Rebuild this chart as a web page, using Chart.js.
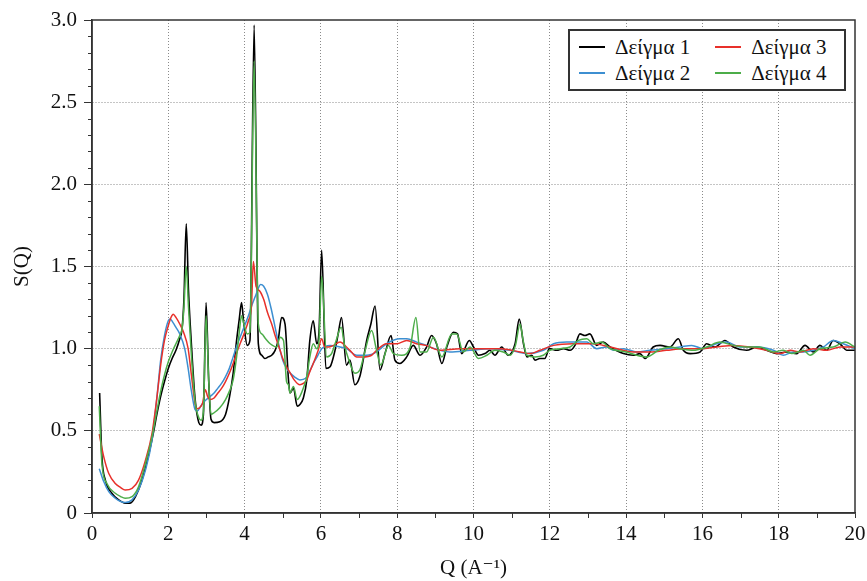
<!DOCTYPE html>
<html>
<head>
<meta charset="utf-8">
<script src="https://cdn.jsdelivr.net/npm/chart.js@4.4.1/dist/chart.umd.min.js"></script>
<style>
  html, body { margin: 0; padding: 0; background: #fff; }
  #wrap { position: relative; width: 867px; height: 581px; }
  #legend {
    position: absolute; display: grid; grid-template-rows: 26px 26px; grid-auto-flow: column;
    column-gap: 25px; padding: 3px 17px 3px 9px; border: 1px solid #333; outline: 0.5px solid #333; background: #fff;
    font-family: "Liberation Serif", "DejaVu Serif", serif; font-size: 21px; color: #111;
  }
  .item { display: flex; align-items: center; white-space: nowrap; }
  .swatch { display: inline-block; width: 26px; height: 2px; margin-right: 10px; }
</style>
</head>
<body>
<div id="wrap">
  <canvas id="c" width="867" height="581"></canvas>
  <div id="legend"></div>
</div>
<script>
// ---- Data ----
const seriesLabels = ['Δείγμα 1', 'Δείγμα 2', 'Δείγμα 3', 'Δείγμα 4'];
const seriesColors = ['#000000', '#3d8fd1', '#e8302a', '#4cad49'];
const xTitle = 'Q (A⁻¹)';
const yTitle = 'S(Q)';
const xTicks = [0, 2, 4, 6, 8, 10, 12, 14, 16, 18, 20];
const yTicks = [0, 0.5, 1.0, 1.5, 2.0, 2.5, 3.0];

const q1 = [0.2,0.26,0.35,0.52,0.7,0.87,1.0,1.14,1.31,1.49,1.62,1.7,1.8,1.9,2.0,2.1,2.2,2.3,2.36,2.41,2.47,2.53,2.6,2.7,2.8,2.86,2.92,2.99,3.06,3.12,3.2,3.35,3.5,3.6,3.7,3.79,3.86,3.92,3.98,4.07,4.14,4.25,4.36,4.45,4.53,4.62,4.71,4.8,4.88,4.97,5.06,5.15,5.19,5.28,5.38,5.45,5.54,5.63,5.71,5.8,5.89,5.95,6.02,6.13,6.24,6.37,6.46,6.54,6.67,6.76,6.89,7.02,7.1,7.2,7.31,7.42,7.55,7.68,7.84,7.94,8.07,8.25,8.42,8.6,8.77,8.9,9.03,9.17,9.3,9.47,9.58,9.69,9.89,10.0,10.13,10.3,10.43,10.56,10.74,10.91,11.09,11.2,11.31,11.4,11.53,11.61,11.74,11.87,11.99,12.18,12.36,12.53,12.66,12.79,12.92,13.05,13.23,13.4,13.58,13.93,14.19,14.36,14.5,14.71,14.89,15.15,15.37,15.5,15.68,15.94,16.11,16.33,16.59,16.81,17.16,17.42,17.68,17.95,18.21,18.47,18.69,18.91,19.08,19.26,19.43,19.65,19.78,20.0];
const s1 = [0.73,0.34,0.2,0.12,0.08,0.06,0.06,0.1,0.2,0.36,0.5,0.6,0.71,0.8,0.88,0.94,0.99,1.06,1.12,1.3,1.76,1.35,1.05,0.7,0.55,0.535,0.6,1.28,0.8,0.57,0.55,0.555,0.6,0.7,0.85,1.05,1.18,1.28,1.15,1.02,1.05,2.97,1.03,0.96,0.94,0.95,0.96,0.99,1.05,1.19,1.15,0.81,0.73,0.76,0.65,0.66,0.7,0.81,1.05,1.17,1.03,1.1,1.6,0.88,0.89,0.99,1.1,1.19,0.9,0.93,0.78,0.83,0.92,1.05,1.15,1.26,0.87,0.97,1.08,0.93,0.91,0.95,1.02,0.96,1.01,1.08,1.03,0.91,1.01,1.1,1.09,0.97,1.05,1.01,0.96,0.97,0.99,0.96,1.01,0.96,1.03,1.18,1.03,0.95,0.96,0.93,0.94,0.94,1.0,0.99,1.0,0.99,1.02,1.09,1.08,1.09,1.02,1.04,1.01,0.97,0.96,0.97,0.94,1.01,1.02,1.01,1.06,0.99,0.97,0.98,1.03,1.01,1.05,1.01,0.99,1.01,0.99,0.97,0.98,0.97,1.02,0.98,1.02,0.99,1.05,1.02,0.99,0.99];

const q2 = [0.19,0.31,0.44,0.61,0.75,0.87,1.05,1.22,1.4,1.57,1.7,1.8,1.9,2.0,2.05,2.12,2.2,2.3,2.43,2.52,2.6,2.7,2.76,2.85,2.95,3.1,3.2,3.3,3.4,3.5,3.6,3.7,3.8,3.9,4.0,4.1,4.2,4.3,4.42,4.5,4.6,4.7,4.8,4.9,5.0,5.1,5.2,5.3,5.45,5.6,5.7,5.8,5.9,6.02,6.24,6.5,6.67,6.94,7.2,7.46,7.72,8.07,8.25,8.51,8.77,8.86,9.38,9.91,10.43,10.96,11.4,11.83,12.1,12.44,12.97,13.23,13.49,13.67,13.93,14.28,14.63,15.06,15.41,15.72,16.02,16.37,16.64,16.99,17.42,17.86,18.12,18.38,18.65,18.91,19.17,19.43,19.69,20.0];
const s2 = [0.27,0.19,0.13,0.09,0.07,0.064,0.08,0.14,0.26,0.44,0.7,0.93,1.08,1.17,1.18,1.16,1.13,1.09,1.0,0.88,0.75,0.63,0.62,0.65,0.68,0.71,0.73,0.76,0.79,0.83,0.88,0.95,1.02,1.08,1.14,1.2,1.27,1.33,1.39,1.38,1.33,1.24,1.13,1.02,0.93,0.88,0.85,0.83,0.81,0.82,0.86,0.91,0.95,1.0,1.02,1.01,1.0,0.96,0.96,0.98,1.03,1.06,1.06,1.04,1.02,1.01,0.98,0.99,1.0,0.99,0.97,0.99,1.03,1.04,1.04,1.0,1.01,0.99,1.0,0.98,0.99,1.0,1.01,1.02,1.0,1.03,1.04,1.01,1.01,0.99,0.96,0.98,0.98,0.99,1.01,1.05,1.03,1.0];

const q3 = [0.19,0.31,0.44,0.61,0.75,0.87,1.05,1.22,1.4,1.57,1.7,1.8,1.9,2.0,2.07,2.13,2.2,2.3,2.4,2.52,2.6,2.68,2.74,2.82,2.9,2.97,3.03,3.1,3.2,3.3,3.4,3.5,3.6,3.7,3.8,3.9,4.0,4.1,4.18,4.23,4.3,4.4,4.5,4.6,4.71,4.8,4.93,5.0,5.1,5.2,5.3,5.45,5.55,5.63,5.71,5.8,5.93,6.02,6.1,6.2,6.33,6.5,6.67,6.8,6.94,7.1,7.33,7.46,7.72,7.99,8.25,8.51,8.75,9.12,9.65,10.17,10.7,11.22,11.48,11.74,12.1,12.6,13.14,13.58,14.19,14.63,15.06,15.5,15.94,16.37,16.81,17.25,17.68,18.03,18.3,18.56,18.91,19.26,19.61,20.0];
const s3 = [0.48,0.34,0.24,0.18,0.155,0.14,0.15,0.2,0.32,0.48,0.7,0.9,1.05,1.14,1.19,1.21,1.19,1.15,1.1,1.0,0.85,0.7,0.635,0.64,0.67,0.75,0.71,0.69,0.7,0.73,0.76,0.8,0.85,0.91,0.98,1.04,1.1,1.17,1.26,1.53,1.38,1.35,1.3,1.22,1.15,1.08,0.99,0.94,0.89,0.85,0.81,0.78,0.79,0.81,0.86,0.91,0.99,1.06,1.01,1.01,1.02,1.04,1.01,0.98,0.95,0.95,0.96,0.99,1.03,1.03,1.05,1.03,1.02,0.99,1.0,1.0,1.0,0.98,0.97,0.99,1.02,1.03,1.03,1.01,0.98,0.98,0.99,1.0,1.0,1.01,1.02,1.01,0.99,0.97,0.99,0.98,1.0,0.99,1.01,1.01];

const q4 = [0.19,0.26,0.39,0.61,0.75,0.87,1.05,1.22,1.4,1.57,1.7,1.8,1.9,2.0,2.1,2.2,2.3,2.36,2.41,2.47,2.53,2.6,2.7,2.8,2.86,2.92,2.99,3.06,3.12,3.2,3.35,3.5,3.6,3.7,3.79,3.86,3.92,3.98,4.07,4.14,4.25,4.36,4.45,4.55,4.67,4.84,4.93,5.02,5.1,5.15,5.19,5.28,5.38,5.45,5.54,5.63,5.71,5.8,5.89,5.95,6.02,6.15,6.28,6.4,6.53,6.62,6.72,6.89,7.02,7.15,7.33,7.45,7.57,7.77,7.9,8.12,8.34,8.49,8.6,8.77,8.95,9.17,9.43,9.56,9.73,9.91,10.13,10.35,10.56,10.78,10.96,11.1,11.22,11.3,11.4,11.61,11.83,12.0,12.27,12.53,12.75,12.97,13.14,13.36,13.58,14.0,14.28,14.54,14.85,15.15,15.41,15.76,16.11,16.46,16.81,17.16,17.51,17.86,18.12,18.34,18.65,18.82,19.08,19.43,19.74,20.0];
const s4 = [0.65,0.3,0.18,0.12,0.1,0.09,0.1,0.16,0.3,0.46,0.62,0.74,0.84,0.92,0.98,1.03,1.08,1.12,1.25,1.5,1.25,0.98,0.68,0.58,0.565,0.62,1.2,0.8,0.6,0.61,0.64,0.69,0.74,0.81,0.95,1.1,1.2,1.15,1.09,1.1,2.75,1.15,1.09,1.06,1.03,1.01,1.07,1.05,0.8,0.78,0.73,0.77,0.69,0.71,0.76,0.83,0.95,1.03,1.0,1.05,1.44,0.95,0.97,1.05,1.13,1.02,0.94,0.85,0.87,0.98,1.11,1.0,0.9,1.02,0.97,0.96,1.01,1.19,0.98,0.98,1.07,0.95,1.09,1.09,0.98,1.01,0.94,0.96,0.99,0.98,0.96,1.02,1.15,1.05,0.96,0.95,0.96,0.99,1.0,1.01,1.05,1.06,1.03,1.04,1.0,0.98,0.96,0.95,0.99,1.01,1.0,0.99,1.01,1.04,1.02,1.01,1.01,0.98,0.99,0.97,0.99,0.96,1.0,1.01,1.04,1.01];

const qs = [q1, q2, q3, q4];
const ss = [s1, s2, s3, s4];
const drawOrder = [4, 3, 2, 1]; // lower = drawn on top

// ---- Styling ----
const FONT = '"Liberation Serif", "DejaVu Serif", serif';
const FONT_SIZE = 21;
const textColor = '#111111';
Chart.defaults.font.family = FONT;
Chart.defaults.font.size = FONT_SIZE;
Chart.defaults.color = textColor;
const isOn = (v, step) => Math.abs(v / step - Math.round(v / step)) < 1e-6;

const frameAndMinorTicks = {
  id: 'frameAndMinorTicks',
  afterDatasetsDraw(chart) {
    const { ctx, chartArea: a, scales: { x, y } } = chart;
    ctx.save();
    ctx.strokeStyle = '#333';
    ctx.lineWidth = 1.5;
    ctx.strokeRect(a.left, a.top, a.right - a.left, a.bottom - a.top);
    ctx.lineWidth = 1;
    ctx.beginPath();
    for (let v = x.min + 1; v < x.max; v += 2) {
      const px = Math.round(x.getPixelForValue(v)) + 0.5;
      ctx.moveTo(px, a.bottom); ctx.lineTo(px, a.bottom + 5);
    }
    for (let i = 1; i < 30; i++) {
      const v = i / 10;
      if (isOn(v, 0.5)) continue;
      const py = Math.round(y.getPixelForValue(v)) + 0.5;
      ctx.moveTo(a.left, py); ctx.lineTo(a.left - 4, py);
    }
    ctx.stroke();
    ctx.restore();
  }
};

const datasets = seriesLabels.map((label, i) => ({
  label,
  data: qs[i].map((q, k) => ({ x: q, y: ss[i][k] })),
  borderColor: seriesColors[i],
  backgroundColor: seriesColors[i],
  borderWidth: i === 0 ? 1.6 : 1.5,
  pointRadius: 0,
  cubicInterpolationMode: 'monotone',
  fill: false,
  order: drawOrder[i]
}));

const gridColor = (lo, hi, step) => (ctx) => {
  const v = ctx.tick ? ctx.tick.value : null;
  if (v === null || v <= lo || v >= hi || !isOn(v, step)) return 'rgba(0,0,0,0)';
  return '#8a8a8a';
};

const chart = new Chart(document.getElementById('c'), {
  type: 'line',
  data: { datasets },
  options: {
    responsive: false,
    animation: false,
    layout: { padding: { left: 0, right: 12, top: 20, bottom: 0 } },
    plugins: { legend: { display: false }, tooltip: { enabled: false } },
    scales: {
      x: {
        type: 'linear', min: xTicks[0], max: xTicks[xTicks.length - 1],
        afterBuildTicks: (s) => { s.ticks = xTicks.map(v => ({ value: v })); },
        ticks: { font: { family: FONT, size: FONT_SIZE }, color: textColor, padding: 4, maxRotation: 0, autoSkip: false,
                 callback: (v) => String(v) },
        grid: { color: gridColor(xTicks[0], xTicks[xTicks.length - 1], 2), lineWidth: 1,
                tickLength: 5, tickColor: '#333', tickWidth: 1 },
        border: { display: true, color: '#333', width: 1.5, dash: [1, 2] },
        title: { display: true, text: xTitle, font: { family: FONT, size: FONT_SIZE }, color: textColor, padding: { top: 0, bottom: 0 } },
        afterFit: (s) => { s.height = 68; s.paddingRight = 0; s.paddingLeft = 0; }
      },
      y: {
        type: 'linear', min: yTicks[0], max: yTicks[yTicks.length - 1],
        afterBuildTicks: (s) => { s.ticks = yTicks.map(v => ({ value: v })); },
        ticks: { font: { family: FONT, size: FONT_SIZE }, color: textColor, padding: 7, autoSkip: false,
                 callback: (v) => (v === 0 ? '0' : Number(v).toFixed(1)) },
        grid: { color: gridColor(yTicks[0], yTicks[yTicks.length - 1], 0.5), lineWidth: 1,
                tickLength: 8, tickColor: '#333', tickWidth: 1 },
        border: { display: true, color: '#333', width: 1.5, dash: [1, 2] },
        title: { display: true, text: yTitle, font: { family: FONT, size: FONT_SIZE }, color: textColor, padding: { top: 10, bottom: 0 } },
        afterFit: (s) => { s.width = 92; s.paddingTop = 0; s.paddingBottom = 0; }
      }
    }
  },
  plugins: [frameAndMinorTicks]
});

// ---- Legend (HTML, two columns: 1,2 | 3,4) ----
const legend = document.getElementById('legend');
seriesLabels.forEach((label, i) => {
  const item = document.createElement('div');
  item.className = 'item';
  const sw = document.createElement('span');
  sw.className = 'swatch';
  sw.style.backgroundColor = seriesColors[i];
  const tx = document.createElement('span');
  tx.textContent = label;
  item.appendChild(sw); item.appendChild(tx);
  legend.appendChild(item);
});
const a = chart.chartArea;
legend.style.left = Math.round(a.right - 10 - legend.offsetWidth) + 'px';
legend.style.top = Math.round(a.top + 10) + 'px';
</script>
</body>
</html>
